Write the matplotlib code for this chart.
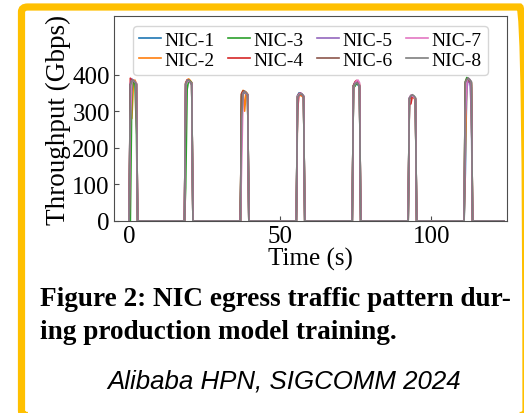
import matplotlib.pyplot as plt
from matplotlib.patches import FancyBboxPatch

# time stamps (s): 7 bursts, 7 samples each, plus the end of the trace
t = [0.0, 0.4, 0.9, 1.4, 1.9, 2.4, 2.8,
     18.3, 18.7, 19.2, 19.7, 20.2, 20.7, 21.1,
     36.8, 37.2, 37.7, 38.2, 38.7, 39.2, 39.6,
     55.3, 55.7, 56.2, 56.7, 57.2, 57.7, 58.1,
     73.8, 74.2, 74.7, 75.2, 75.7, 76.2, 76.6,
     92.3, 92.7, 93.2, 93.7, 94.2, 94.7, 95.1,
     110.8, 111.2, 111.7, 112.2, 112.7, 113.2, 113.6,
     124.0]

nic1 = [[0, 372, 385, 380, 376, 372, 0], [0, 376, 384, 380, 378, 372, 0],
        [0, 340, 352, 350, 347, 342, 0], [0, 342, 350, 347, 344, 338, 0],
        [0, 368, 378, 374, 372, 366, 0], [0, 334, 342, 340, 338, 332, 0],
        [0, 130, 385, 382, 378, 365, 0]]
nic2 = [[0, 350, 280, 372, 385, 376, 0], [0, 378, 386, 388, 384, 378, 0],
        [0, 348, 357, 300, 352, 346, 0], [0, 338, 345, 343, 341, 336, 0],
        [0, 370, 376, 380, 376, 370, 0], [0, 332, 340, 338, 336, 330, 0],
        [0, 180, 388, 386, 383, 378, 0]]
nic3 = [[0, 0, 355, 382, 378, 250, 0], [0, 90, 360, 385, 382, 378, 0],
        [0, 346, 355, 353, 349, 344, 0], [0, 340, 346, 348, 345, 340, 0],
        [0, 365, 368, 376, 374, 368, 0], [0, 334, 340, 343, 340, 336, 0],
        [0, 380, 392, 389, 385, 380, 0]]
nic4 = [[0, 390, 386, 382, 380, 374, 0], [0, 376, 385, 383, 380, 376, 0],
        [0, 348, 355, 352, 350, 345, 0], [0, 300, 348, 346, 344, 340, 0],
        [0, 370, 380, 384, 380, 374, 0], [0, 318, 320, 342, 340, 334, 0],
        [0, 376, 385, 382, 378, 372, 0]]
nic5 = [[0, 376, 388, 384, 380, 376, 0], [0, 374, 385, 382, 380, 376, 0],
        [0, 280, 350, 352, 348, 344, 0], [0, 340, 346, 350, 347, 342, 0],
        [0, 370, 378, 380, 377, 370, 0], [0, 336, 343, 341, 338, 334, 0],
        [0, 280, 360, 390, 386, 300, 0]]
nic6 = [[0, 372, 386, 383, 379, 374, 0], [0, 374, 382, 384, 380, 374, 0],
        [0, 346, 352, 355, 351, 346, 0], [0, 342, 347, 349, 346, 341, 0],
        [0, 370, 376, 378, 376, 370, 0], [0, 334, 341, 344, 340, 335, 0],
        [0, 380, 388, 386, 382, 376, 0]]
nic7 = [[0, 270, 382, 385, 380, 376, 0], [0, 372, 380, 383, 380, 376, 0],
        [0, 150, 350, 353, 349, 345, 0], [0, 340, 346, 348, 345, 341, 0],
        [0, 366, 374, 383, 385, 378, 0], [0, 336, 344, 342, 339, 335, 0],
        [0, 300, 382, 390, 386, 380, 0]]
nic8 = [[0, 370, 382, 385, 380, 374, 0], [0, 374, 383, 385, 380, 376, 0],
        [0, 280, 350, 354, 350, 345, 0], [0, 338, 344, 347, 346, 341, 0],
        [0, 368, 374, 378, 375, 370, 0], [0, 336, 342, 345, 342, 337, 0],
        [0, 378, 386, 390, 386, 380, 0]]

labels = ["NIC-1", "NIC-2", "NIC-3", "NIC-4", "NIC-5", "NIC-6", "NIC-7", "NIC-8"]
series = [nic1, nic2, nic3, nic4, nic5, nic6, nic7, nic8]

plt.rcParams["font.family"] = "Liberation Serif"

fig = plt.figure(figsize=(5.24, 4.14), dpi=100)
ax = fig.add_axes([0.2176, 0.4638, 0.75, 0.4951])

for name, bursts in zip(labels, series):
    y = [v for b in bursts for v in b] + [0]
    ax.plot(t, y, lw=1.2, label=name)

ax.set_xlim(-5, 125)
ax.set_ylim(0, 560)
ax.set_xticks([0, 50, 100])
ax.set_yticks([0, 100, 200, 300, 400])
ax.tick_params(direction="in", labelsize=18, color="0.3", pad=3)
for s in ax.spines.values():
    s.set_color("0.3")
ax.set_xlabel("Time (s)", fontsize=18, labelpad=0)
ax.set_ylabel("Throughput (Gbps)", fontsize=19.5, labelpad=1)
ax.legend(loc="upper center", ncol=4, fontsize=14, handlelength=1.1,
          handletextpad=0.2, columnspacing=0.7, labelspacing=0.1,
          borderpad=0.3)

fig.text(0.076, 0.262, "Figure 2: NIC egress traffic pattern dur-",
         fontsize=19.6, fontweight="bold")
fig.text(0.076, 0.180, "ing production model training.",
         fontsize=19.6, fontweight="bold")
fig.text(0.542, 0.062, "Alibaba HPN, SIGCOMM 2024", family="Liberation Sans",
         style="italic", fontsize=18.6, ha="center")

frame = FancyBboxPatch((21.5 / 524, -2.5 / 414), 504.5 / 524, 408.5 / 414,
                       boxstyle="round,pad=0,rounding_size=0.012",
                       transform=fig.transFigure, fill=False,
                       edgecolor="#FFC000", lw=5.2, clip_on=False)
fig.patches.append(frame)

fig.savefig("out.png", dpi=100)
